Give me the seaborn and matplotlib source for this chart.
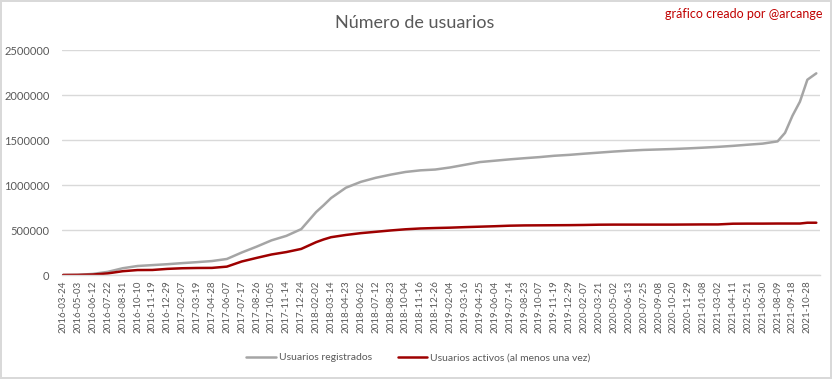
import matplotlib
matplotlib.use("Agg")
import matplotlib.pyplot as plt
import seaborn as sns
import numpy as np
import pandas as pd

# etiquetas del eje (una cada 40 filas de la hoja)
fechas = ["2016-03-24", "2016-05-03", "2016-06-12", "2016-07-22", "2016-08-31",
          "2016-10-10", "2016-11-19", "2016-12-29", "2017-02-07", "2017-03-19",
          "2017-04-28", "2017-06-07", "2017-07-17", "2017-08-26", "2017-10-05",
          "2017-11-14", "2017-12-24", "2018-02-02", "2018-03-14", "2018-04-23",
          "2018-06-02", "2018-07-12", "2018-08-23", "2018-10-04", "2018-11-16",
          "2018-12-26", "2019-02-04", "2019-03-16", "2019-04-25", "2019-06-04",
          "2019-07-14", "2019-08-23", "2019-10-07", "2019-11-19", "2019-12-29",
          "2020-02-07", "2020-03-21", "2020-05-02", "2020-06-13", "2020-07-25",
          "2020-09-08", "2020-10-20", "2020-11-29", "2021-01-08", "2021-03-02",
          "2021-04-11", "2021-05-21", "2021-06-30", "2021-08-09", "2021-09-18",
          "2021-10-28"]

# fila de la hoja (0 = primera fecha) en la que se leyó cada valor
filas = [0, 40, 80, 120, 160, 200, 240, 280, 320, 360,
         400, 440, 480, 520, 560, 600, 640, 680, 700, 720,
         760, 800, 840, 880, 920, 960, 1000, 1040, 1080, 1120,
         1160, 1200, 1240, 1280, 1320, 1360, 1400, 1440, 1480, 1520,
         1560, 1600, 1640, 1680, 1720, 1760, 1800, 1840, 1880, 1920,
         1940, 1960, 1980, 2000, 2024]

registrados = [0, 2000, 12000, 35000, 75000, 100000, 110000, 120000, 132000, 143000,
               155000, 178000, 250000, 315000, 385000, 435000, 510000, 700000, 775000, 855000,
               970000, 1035000, 1080000, 1115000, 1145000, 1163000, 1172000, 1195000, 1225000, 1255000,
               1270000, 1285000, 1298000, 1310000, 1325000, 1335000, 1348000, 1360000, 1372000, 1382000,
               1390000, 1395000, 1400000, 1407000, 1415000, 1424000, 1435000, 1448000, 1460000, 1485000,
               1580000, 1770000, 1926000, 2170000, 2241000]

activos = [0, 1000, 5000, 18000, 42000, 55000, 56000, 68000, 75000, 78000,
           79000, 93000, 150000, 190000, 228000, 255000, 290000, 365000, 395000, 420000,
           445000, 465000, 480000, 495000, 508000, 517000, 522000, 526000, 532000, 537000,
           542000, 548000, 551000, 552000, 553000, 554000, 556000, 559000, 560000, 560000,
           560000, 560000, 560000, 561000, 562000, 562000, 570000, 571000, 571000, 572000,
           572000, 572000, 572000, 581000, 581000]

serie_reg = "Usuarios registrados"
serie_act = "Usuarios activos (al menos una vez)"

df = pd.concat([
    pd.DataFrame({"fila": filas, "usuarios": registrados, "serie": serie_reg}),
    pd.DataFrame({"fila": filas, "usuarios": activos, "serie": serie_act}),
])

sns.set_style("white")
plt.rcParams["font.family"] = ["Lato", "DejaVu Sans"]

fig = plt.figure(figsize=(8.32, 3.79), dpi=100)
fig.patch.set_edgecolor("#d9d9d9")
fig.patch.set_linewidth(1.5)
ax = fig.add_axes([0.0745, 0.2744, 0.9111, 0.5936])

sns.lineplot(data=df, x="fila", y="usuarios", hue="serie",
             palette={serie_reg: "#a5a5a5", serie_act: "#9e0000"},
             linewidth=1.8, ax=ax, legend=False)

ax.set_xlim(-3, 2034)
ax.set_ylim(0, 2500000)
ax.set_yticks(np.arange(0, 2500001, 500000))
ax.set_yticklabels([str(v) for v in range(0, 2500001, 500000)])
ax.set_xticks(np.arange(len(fechas)) * 40)
ax.set_xticklabels(fechas, rotation=90)
ax.tick_params(axis="y", labelsize=8, labelcolor="#595959", length=0, pad=9)
ax.tick_params(axis="x", labelsize=7, labelcolor="#595959", length=0, pad=4)
ax.set_xlabel("")
ax.set_ylabel("")
ax.yaxis.grid(True, color="#d9d9d9", linewidth=1)
for s in ["top", "right", "left"]:
    ax.spines[s].set_visible(False)
ax.spines["bottom"].set_color("#d9d9d9")
ax.spines["bottom"].set_linewidth(1)

fig.text(0.499, 0.94, "Número de usuarios", ha="center", va="center",
         fontsize=13, color="#595959")
fig.text(0.988, 0.962, "gráfico creado por @arcange", ha="right", va="center",
         fontsize=9, color="#c00000")

h1 = plt.Line2D([], [], color="#a5a5a5", linewidth=1.8)
h2 = plt.Line2D([], [], color="#9e0000", linewidth=1.8)
fig.legend([h1, h2], [serie_reg, serie_act], loc="center", ncol=2,
           bbox_to_anchor=(0.503, 0.056), frameon=False, fontsize=7.5,
           handlelength=2.8, handletextpad=0.3, columnspacing=2.5,
           labelcolor="#595959")

fig.savefig("out.png", dpi=100, edgecolor=fig.get_edgecolor())
